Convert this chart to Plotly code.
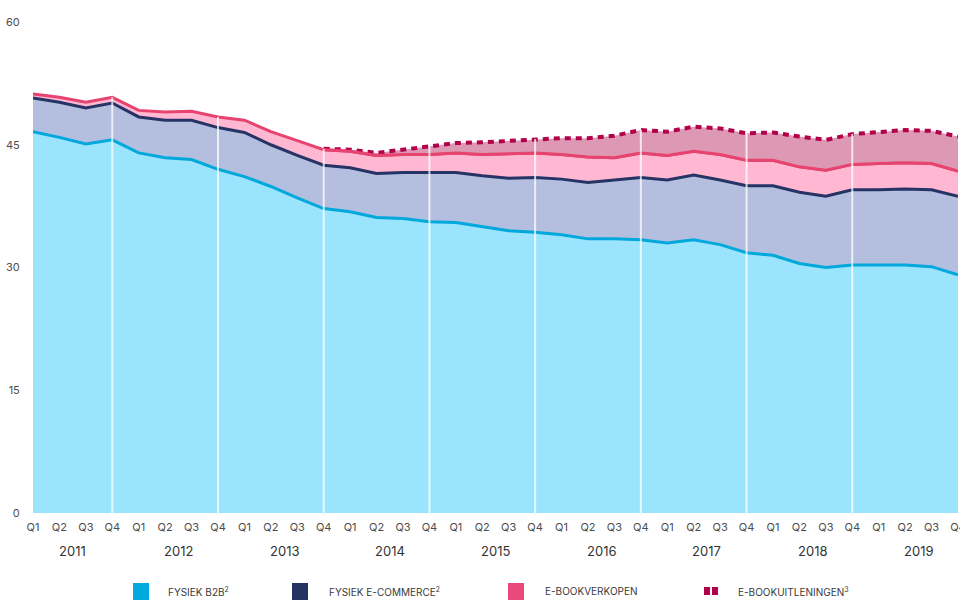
import plotly.graph_objects as go
import numpy as np

# ---------------- data ----------------
years = ["2011", "2012", "2013", "2014", "2015", "2016", "2017", "2018", "2019"]
quarters = ["Q1", "Q2", "Q3", "Q4"]

fysiek_b2b = [46.6, 45.9, 45.1, 45.6, 44.0, 43.4, 43.2, 42.0, 41.1, 39.9, 38.5, 37.2,
              36.8, 36.1, 36.0, 35.6, 35.5, 35.0, 34.5, 34.3, 34.0, 33.5, 33.5, 33.4,
              33.0, 33.4, 32.8, 31.8, 31.5, 30.5, 30.0, 30.3, 30.3, 30.3, 30.1, 29.1]
fysiek_ecom = [4.1, 4.3, 4.4, 4.5, 4.4, 4.6, 4.8, 5.1, 5.4, 5.1, 5.2, 5.3,
               5.4, 5.4, 5.6, 6.0, 6.1, 6.2, 6.4, 6.7, 6.8, 6.9, 7.2, 7.6,
               7.7, 7.9, 7.9, 8.2, 8.5, 8.7, 8.7, 9.2, 9.2, 9.3, 9.4, 9.6]
ebook_verkoop = [0.5, 0.6, 0.7, 0.7, 0.8, 1.0, 1.1, 1.3, 1.5, 1.6, 1.8, 1.9,
                 2.0, 2.2, 2.2, 2.2, 2.4, 2.6, 3.0, 3.0, 3.0, 3.1, 2.7, 3.0,
                 3.0, 2.9, 3.1, 3.1, 3.1, 3.1, 3.2, 3.1, 3.2, 3.2, 3.2, 3.1]
# lending starts in Q4 2013 (index 11)
ebook_uitleen_start = 11
ebook_uitleen = [0.1, 0.2, 0.3, 0.6, 1.1, 1.2, 1.5, 1.6, 1.7, 2.0, 2.3, 2.7,
                 2.8, 2.9, 3.0, 3.2, 3.3, 3.4, 3.7, 3.7, 3.7, 3.9, 4.0, 4.0, 4.2]

names = ["FYSIEK B2B<sup>2</sup>", "FYSIEK E-COMMERCE<sup>2</sup>",
         "E-BOOKVERKOPEN", "E-BOOKUITLENINGEN<sup>3</sup>"]

# ---------------- derived ----------------
n = len(fysiek_b2b)
x = list(range(n))
tick_text = [q for _ in years for q in quarters]
c1 = np.array(fysiek_b2b)
c2 = c1 + np.array(fysiek_ecom)
c3 = c2 + np.array(ebook_verkoop)
xl = x[ebook_uitleen_start:]
c4 = c3[ebook_uitleen_start:] + np.array(ebook_uitleen)
total = c3.copy()
total[ebook_uitleen_start:] = c4

FONT = "Inter"

fig = go.Figure()
fig.add_trace(go.Scatter(x=x, y=c1, mode="lines", fill="tozeroy",
                         fillcolor="#9ae4fd", line=dict(color="#00a8db", width=3),
                         hoverinfo="skip", showlegend=False))
fig.add_trace(go.Scatter(x=x, y=c2, mode="lines", fill="tonexty",
                         fillcolor="#b4bedf", line=dict(color="#253465", width=3),
                         hoverinfo="skip", showlegend=False))
fig.add_trace(go.Scatter(x=x, y=c3, mode="lines", fill="tonexty",
                         fillcolor="#ffb7d2", line=dict(color="#e6436f", width=3),
                         hoverinfo="skip", showlegend=False))
# invisible base for the lending band
fig.add_trace(go.Scatter(x=xl, y=c3[ebook_uitleen_start:], mode="lines",
                         line=dict(color="rgba(0,0,0,0)", width=0),
                         hoverinfo="skip", showlegend=False))
fig.add_trace(go.Scatter(x=xl, y=c4, mode="lines", fill="tonexty",
                         fillcolor="#dd98b3",
                         line=dict(color="#b3004b", width=4, dash="6px,5px"),
                         hoverinfo="skip", showlegend=False))
# re-draw pink line above lending fill
fig.add_trace(go.Scatter(x=xl, y=c3[ebook_uitleen_start:], mode="lines",
                         line=dict(color="#e6436f", width=3),
                         hoverinfo="skip", showlegend=False))

shapes = []
# white separators at each Q4
for i in range(3, n - 1, 4):
    shapes.append(dict(type="line", xref="x", yref="y", x0=i, x1=i, y0=0, y1=total[i],
                       line=dict(color="rgba(255,255,255,0.75)", width=2), layer="above"))

# pixel helpers for legend placement
L, R, T, B = 33, 958, 22, 513
def px(v):
    return (v - L) / (R - L)
def py(v):
    return (B - v) / (B - T)

annotations = []
for k, yr in enumerate(years):
    annotations.append(dict(x=4 * k + 1.5, y=0, xref="x", yref="y", text=yr,
                            showarrow=False, yshift=-38, yanchor="middle",
                            font=dict(family=FONT, size=13, color="#333333")))

legend_items = [
    (133, 149, "#00aadf", 166, names[0]),
    (292, 308, "#253363", 327, names[1]),
    (508, 524, "#e8497a", 543, names[2]),
]
for x0, x1, col, tx, label in legend_items:
    shapes.append(dict(type="rect", xref="paper", yref="paper",
                       x0=px(x0), x1=px(x1), y0=py(600), y1=py(583),
                       fillcolor=col, line=dict(width=0), layer="above"))
    annotations.append(dict(x=px(tx), y=py(591), xref="paper", yref="paper",
                            text=label, showarrow=False, xanchor="left", yanchor="middle",
                            font=dict(family=FONT, size=10, color="#3a3a3a")))
for x0, x1 in [(704, 710), (712, 718)]:
    shapes.append(dict(type="rect", xref="paper", yref="paper",
                       x0=px(x0), x1=px(x1), y0=py(595), y1=py(587),
                       fillcolor="#b0004b", line=dict(width=0), layer="above"))
annotations.append(dict(x=px(736), y=py(591), xref="paper", yref="paper",
                        text=names[3], showarrow=False, xanchor="left", yanchor="middle",
                        font=dict(family=FONT, size=10, color="#3a3a3a")))

fig.update_layout(
    width=960, height=601,
    margin=dict(l=L, r=960 - R, t=T, b=601 - B, autoexpand=False),
    paper_bgcolor="white", plot_bgcolor="white",
    shapes=shapes, annotations=annotations,
    showlegend=False,
    xaxis=dict(range=[0, n - 1 + 0.001], tickmode="array", tickvals=x, ticktext=tick_text,
               showgrid=False, zeroline=False, showline=False, automargin=False,
               ticks="outside", ticklen=4, tickcolor="rgba(0,0,0,0)",
               ticklabeloverflow="allow",
               tickfont=dict(family=FONT, size=11, color="#4d4d4d")),
    yaxis=dict(range=[0, 60], tickmode="array", tickvals=[0, 15, 30, 45, 60],
               showgrid=False, zeroline=False, showline=False, automargin=False,
               ticks="outside", ticklen=10, tickcolor="rgba(0,0,0,0)",
               tickfont=dict(family=FONT, size=11, color="#4d4d4d")),
)

fig.write_html("out.html", config={"displayModeBar": False},
               post_script="document.body.style.margin='0';document.body.style.overflow='hidden';")
